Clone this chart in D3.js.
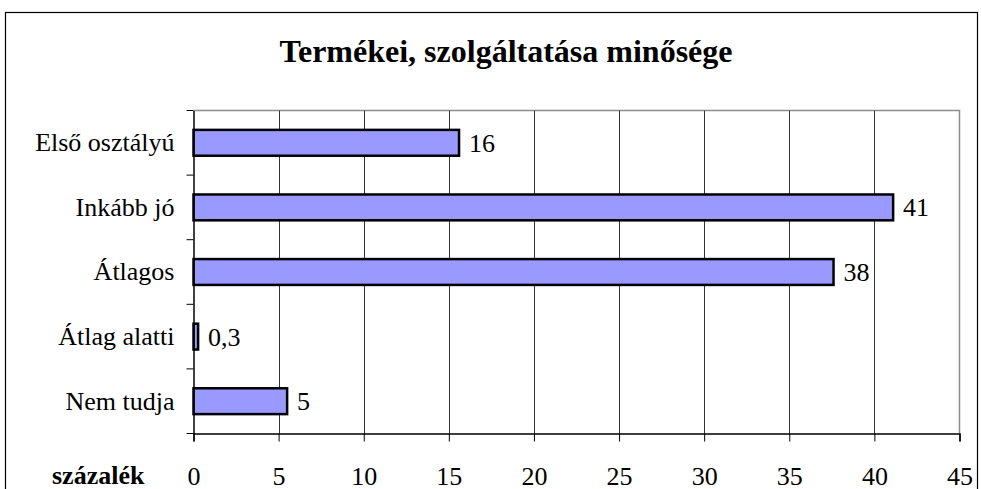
<!DOCTYPE html>
<html><head><meta charset="utf-8">
<script src="https://cdn.jsdelivr.net/npm/d3@7"></script>
<style>body{margin:0;background:#fff}svg{display:block}</style>
</head><body>
<svg id="c" width="981" height="489"></svg>
<script>
const title = "Termékei, szolgáltatása minősége";
const categories = ["Első osztályú","Inkább jó","Átlagos","Átlag alatti","Nem tudja"];
const values = [15.6, 41.1, 37.6, 0.27, 5.5];
const valueLabels = ["16","41","38","0,3","5"];
const xTicks = [0,5,10,15,20,25,30,35,40,45];
const axisTitle = "százalék";

const FF = "Liberation Serif";
const FS = 26;
const svg = d3.select("#c");
const m = {left:193.5, right:959.5, top:110.5, bottom:433.5};

svg.append("rect").attr("x",5.5).attr("y",12.5).attr("width",972).attr("height",520)
  .attr("fill","none").attr("stroke","#000").attr("stroke-width",1.2);

svg.append("text").attr("x",506).attr("y",62).attr("text-anchor","middle")
  .attr("font-family",FF)
  .attr("font-size",32).attr("font-weight","bold").text(title);

const x = d3.scaleLinear().domain([0,45]).range([m.left,m.right]);
const y = d3.scaleBand().domain(categories).range([m.top,m.bottom]).paddingInner(0.6).paddingOuter(0.3);
const yb = d3.scaleBand().domain(categories).range([m.top,m.bottom]);

svg.append("path").attr("d",`M${m.left},${m.top}H${m.right}V${m.bottom}`)
  .attr("fill","none").attr("stroke","#8c8c8c").attr("stroke-width",1.5);

svg.append("g").selectAll("line").data(xTicks.filter(t=>t>0&&t<45)).join("line")
  .attr("x1",d=>Math.round(x(d))+0.5).attr("x2",d=>Math.round(x(d))+0.5)
  .attr("y1",m.top).attr("y2",m.bottom).attr("stroke","#333").attr("stroke-width",1);

svg.append("g").selectAll("rect").data(values).join("rect")
  .attr("x",x(0)).attr("y",(d,i)=>y(categories[i]))
  .attr("width",d=>x(d)-x(0)).attr("height",y.bandwidth())
  .attr("fill","#9999ff").attr("stroke","#000").attr("stroke-width",2.5);

svg.append("g").selectAll("text").data(values).join("text")
  .attr("font-family",FF)
  .attr("x",d=>x(d)+10).attr("y",(d,i)=>y(categories[i])+y.bandwidth()/2+9)
  .attr("font-size",FS).text((d,i)=>valueLabels[i]);

const xa = svg.append("g").attr("transform",`translate(0,${m.bottom})`)
  .call(d3.axisBottom(x).tickValues(xTicks).tickSize(8).tickPadding(25).tickFormat(d3.format("d")));
xa.attr("font-family",FF);
xa.select(".domain").attr("stroke","#000").attr("stroke-width",1.5);
xa.selectAll(".tick line").attr("stroke","#000");
xa.selectAll("text").attr("font-size",FS).attr("font-family",FF);

const ya = svg.append("g").attr("transform",`translate(${m.left},0)`)
  .call(d3.axisLeft(yb).tickSize(0).tickPadding(19));
ya.attr("font-family",FF);
ya.select(".domain").attr("stroke","#000").attr("stroke-width",1.5);
ya.selectAll("text").attr("font-size",FS).attr("font-family",FF);
svg.append("g").selectAll("line").data(d3.range(categories.length+1)).join("line")
  .attr("x1",m.left-7).attr("x2",m.left)
  .attr("y1",i=>m.top+i*yb.step()).attr("y2",i=>m.top+i*yb.step())
  .attr("stroke","#000");

svg.append("text").attr("x",52).attr("y",484)
  .attr("font-family",FF)
  .attr("font-size",FS).attr("font-weight","bold").text(axisTitle);
</script>
</body></html>
